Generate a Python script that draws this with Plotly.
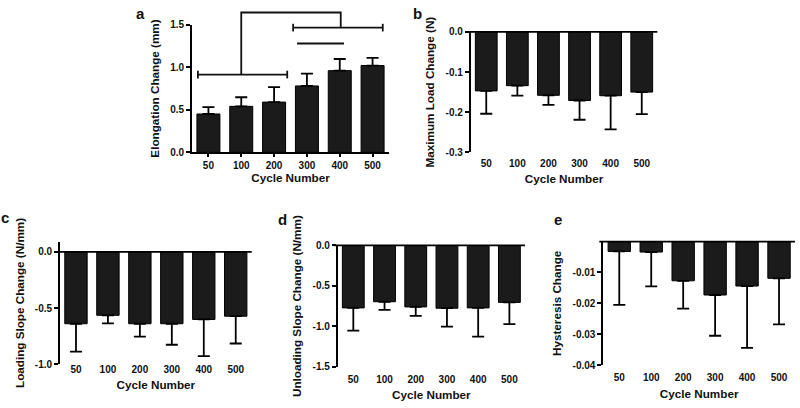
import plotly.graph_objects as go

# ---------------- data ----------------
cycles = ["50", "100", "200", "300", "400", "500"]

elong_mean = [0.45, 0.54, 0.59, 0.78, 0.96, 1.02]
elong_err = [0.08, 0.107, 0.175, 0.145, 0.137, 0.091]

maxload_mean = [-0.147, -0.134, -0.158, -0.171, -0.159, -0.150]
maxload_err = [0.057, 0.025, 0.024, 0.048, 0.084, 0.055]

loadslope_mean = [-0.64, -0.565, -0.64, -0.64, -0.602, -0.573]
loadslope_err = [0.248, 0.072, 0.115, 0.187, 0.326, 0.243]

unloadslope_mean = [-0.772, -0.696, -0.76, -0.776, -0.772, -0.704]
unloadslope_err = [0.28, 0.10, 0.112, 0.228, 0.356, 0.268]

hyst_mean = [-0.0032, -0.0034, -0.0127, -0.0173, -0.0144, -0.0119]
hyst_err = [0.0173, 0.0111, 0.009, 0.0132, 0.020, 0.0149]

elong_ticks = [0.0, 0.5, 1.0, 1.5]
maxload_ticks = [-0.3, -0.2, -0.1, 0.0]
loadslope_ticks = [-1.0, -0.5, 0.0]
unloadslope_ticks = [-1.5, -1.0, -0.5, 0.0]
hyst_ticks = [-0.04, -0.03, -0.02, -0.01]

# significance brackets of panel a (category index span, level in mm)
sig_low_span = [-0.32, 2.40]
sig_low_level = 0.914
sig_high_span = [2.58, 5.31]
sig_high_level = 1.466
sig_mid_span = [2.70, 4.13]
sig_mid_level = 1.279
sig_link_x = [1.0, 4.03]
sig_link_level = 1.644
sig_cap = 0.045

# ---------------- layout / style ----------------
W, H = 800, 408
FONT = "Liberation Sans, Arial, Helvetica, sans-serif"
INK = "#111111"
BAR = "#1b1b1b"

panels = [
    dict(letter="a", mean=elong_mean, err=elong_err, box=(192, 19.3, 389, 150.7),
         rng=[0, 1.5], ticks=elong_ticks, fmt="{:.1f}", title="Elongation Change (mm)",
         up=True, letter_xy=(140.5, 8), lab_off=0, tit_off=4),
    dict(letter="b", mean=maxload_mean, err=maxload_err, box=(470.7, 26.7, 657.3, 150.7),
         rng=[-0.3, 0], ticks=maxload_ticks, fmt="{:.1f}", title="Maximum Load Change (N)",
         up=False, letter_xy=(417, 8), lab_off=4, tit_off=6),
    dict(letter="c", mean=loadslope_mean, err=loadslope_err, box=(60, 242.9, 251.7, 369),
         rng=[-1.0, 0.09], ticks=loadslope_ticks, fmt="{:.1f}", title="Loading Slope Change (N/mm)",
         up=False, letter_xy=(5, 218), lab_off=-2, tit_off=6),
    dict(letter="d", mean=unloadslope_mean, err=unloadslope_err, box=(337.7, 246.7, 525, 371.7),
         rng=[-1.5, 0], ticks=unloadslope_ticks, fmt="{:.1f}", title="Unloading Slope Change (N/mm)",
         up=False, letter_xy=(282, 219.8), lab_off=5, tit_off=7),
    dict(letter="e", mean=hyst_mean, err=hyst_err, box=(603.3, 242.7, 795, 370),
         rng=[-0.04, 0], ticks=hyst_ticks, fmt="{:.2f}", title="Hysteresis Change",
         up=False, letter_xy=(558, 219.8), lab_off=5, tit_off=7),
]

tickfont = dict(family=FONT, size=10, color=INK, weight="bold")
titlefont = dict(family=FONT, size=11.7, color=INK, weight="bold")

fig = go.Figure()
shapes = []
annotations = []

for i, p in enumerate(panels):
    n = "" if i == 0 else str(i + 1)
    xa, ya = "x" + n, "y" + n
    x0, y0, x1, y1 = p["box"]
    xdom = [x0 / W, x1 / W]
    ydom = [1 - y1 / H, 1 - y0 / H]
    zeros = [0] * len(p["mean"])

    fig.add_trace(go.Bar(
        x=cycles, y=p["mean"], width=0.7, xaxis=xa, yaxis=ya, showlegend=False,
        hoverinfo="skip",
        marker=dict(color=BAR, line=dict(color="#000000", width=1)),
        error_y=dict(type="data", symmetric=False,
                     array=p["err"] if p["up"] else zeros,
                     arrayminus=zeros if p["up"] else p["err"],
                     color="#000000", thickness=1.8, width=6),
    ))

    is_a = p["letter"] == "a"
    xaxis = dict(domain=xdom, anchor=ya, type="category", range=[-0.5, 5.5],
                 showline=is_a, linecolor="#000000", linewidth=1.8,
                 ticks="outside" if is_a else "", ticklen=3, tickwidth=1.5, tickcolor="#000000",
                 tickfont=tickfont, showgrid=False, zeroline=False,
                 ticklabelstandoff=p["lab_off"],
                 title=dict(text="Cycle Number", font=titlefont, standoff=p["tit_off"]))
    yaxis = dict(domain=ydom, anchor=xa, range=p["rng"], showline=True,
                 linecolor="#000000", linewidth=1.8, ticks="outside", ticklen=4,
                 tickwidth=1.5, tickcolor="#000000", tickvals=p["ticks"],
                 ticktext=[p["fmt"].format(v) for v in p["ticks"]],
                 tickfont=tickfont, showgrid=False, zeroline=False,
                 title=dict(text=p["title"], font=titlefont, standoff=8))
    fig.update_layout(**{("xaxis" + n): xaxis, ("yaxis" + n): yaxis})

    r0, r1 = p["rng"]

    def ypaper(v, r0=r0, r1=r1, ydom=ydom):
        return ydom[0] + (v - r0) / (r1 - r0) * (ydom[1] - ydom[0])

    def xpaper(c, xdom=xdom):
        return xdom[0] + (c + 0.5) / 6 * (xdom[1] - xdom[0])

    if not p["up"]:
        shapes.append(dict(type="line", xref="paper", yref="paper",
                           x0=xdom[0] - 4 / W, x1=xdom[1], y0=ypaper(0), y1=ypaper(0),
                           line=dict(color="#000000", width=1.8)))
    else:
        line = dict(color="#111111", width=1.8)
        for span, lev in [(sig_low_span, sig_low_level), (sig_high_span, sig_high_level)]:
            shapes.append(dict(type="line", xref="paper", yref="paper",
                               x0=xpaper(span[0]), x1=xpaper(span[1]),
                               y0=ypaper(lev), y1=ypaper(lev), line=line))
            for sx in span:
                shapes.append(dict(type="line", xref="paper", yref="paper",
                                   x0=xpaper(sx), x1=xpaper(sx),
                                   y0=ypaper(lev - sig_cap), y1=ypaper(lev + sig_cap), line=line))
        shapes.append(dict(type="line", xref="paper", yref="paper",
                           x0=xpaper(sig_mid_span[0]), x1=xpaper(sig_mid_span[1]),
                           y0=ypaper(sig_mid_level), y1=ypaper(sig_mid_level), line=line))
        shapes.append(dict(type="path", xref="paper", yref="paper",
                           path="M {} {} L {} {} L {} {} L {} {}".format(
                               xpaper(sig_link_x[0]), ypaper(sig_low_level),
                               xpaper(sig_link_x[0]), ypaper(sig_link_level),
                               xpaper(sig_link_x[1]), ypaper(sig_link_level),
                               xpaper(sig_link_x[1]), ypaper(sig_high_level)),
                           line=line))

    lx, ly = p["letter_xy"]
    annotations.append(dict(text=p["letter"], xref="paper", yref="paper",
                            x=lx / W, y=1 - ly / H, xanchor="center", yanchor="middle",
                            showarrow=False,
                            font=dict(family=FONT, size=15, color=INK, weight="bold")))

fig.update_layout(
    width=W, height=H, margin=dict(l=0, r=0, t=0, b=0),
    paper_bgcolor="white", plot_bgcolor="white",
    font=dict(family=FONT, color=INK),
    shapes=shapes, annotations=annotations, bargap=0.3,
)

fig.write_html("out.html", config={"displayModeBar": False},
               post_script="document.body.style.margin='0';document.body.style.overflow='hidden';")
